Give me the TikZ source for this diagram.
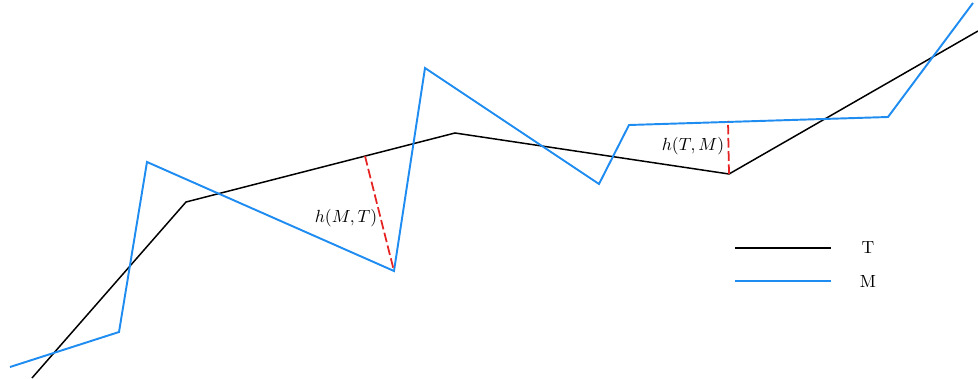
\documentclass[tikz,border=0pt]{standalone}
\usepackage{amsmath}
\usepackage{xcolor}
\usetikzlibrary{calc}
\definecolor{curvablue}{RGB}{30, 140, 240}
\definecolor{distred}{RGB}{230, 35, 35}

\begin{document}
\begin{tikzpicture}[
  x=0.02cm, y=-0.02cm,
  curvaT/.style={line width=0.85pt, black, line join=miter},
  curvaM/.style={line width=1.1pt, curvablue, line join=miter},
  dist/.style={line width=1pt, distred, dash pattern=on 5.5pt off 2pt},
  et/.style={font=\normalsize, inner sep=1pt}
]
\useasboundingbox (0,0) rectangle (978,379);
% Vertices de las curvas
\coordinate (t1) at (32,378);
\coordinate (t2) at (186,202);
\coordinate (t3) at (455,133);
\coordinate (t4) at (729,174);
\coordinate (t5) at (978,31);
\coordinate (m1) at (10,367);
\coordinate (m2) at (119,332);
\coordinate (m3) at (147,162);
\coordinate (m4) at (394,271);
\coordinate (m5) at (425,68);
\coordinate (m6) at (599,184);
\coordinate (m7) at (629,125);
\coordinate (m8) at (888,117);
\coordinate (m9) at (973,3);
% Curvas T y M
\draw[curvaT] (t1) -- (t2) -- (t3) -- (t4) -- (t5);
\draw[curvaM] (m1) -- (m2) -- (m3) -- (m4) -- (m5) -- (m6) -- (m7) -- (m8) -- (m9);
% Distancias
\coordinate (pT) at ($(t2)!0.6654!(t3)$);
\coordinate (pM) at (728,121);
\draw[dist] (pT) -- (m4);
\draw[dist] (t4) -- (pM);
\node[et] (hMT) at (346,218) {$h(M,T)$};
\node[et] (hTM) at (693,146) {$h(T,M)$};
% Leyenda
\coordinate (lT1) at (735,248);
\coordinate (lT2) at (831,248);
\coordinate (lM1) at (735,281);
\coordinate (lM2) at (831,281);
\draw[curvaT] (lT1) -- (lT2);
\draw[curvaM] (lM1) -- (lM2);
\node[et] (labT) at (868,248) {T};
\node[et] (labM) at (868,281) {M};
\end{tikzpicture}
\end{document}
